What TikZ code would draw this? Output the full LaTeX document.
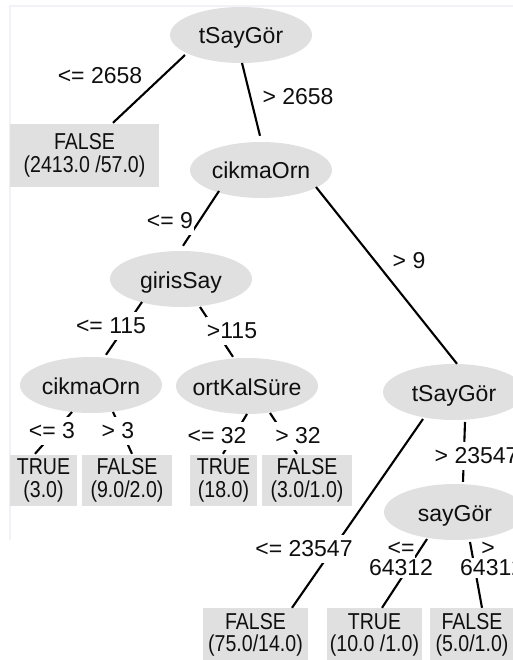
\documentclass[tikz,border=0pt]{standalone}
\usepackage{fontspec}
\setmainfont{Liberation Sans}
\newfontfamily\leaffont[FakeStretch=0.85]{Liberation Sans}
\usetikzlibrary{shapes.geometric,calc}
\definecolor{nodegray}{RGB}{224,224,224}
\definecolor{inkc}{RGB}{15,15,15}
\definecolor{framec}{RGB}{240,242,247}
\begin{document}
\begin{tikzpicture}[x=1pt,y=-1pt,
  every node/.style={font=\fontsize{23pt}{22.5pt}\selectfont, text=inkc},
  ell/.style={ellipse, fill=nodegray, minimum width=142pt, minimum height=56pt, inner sep=0pt, text height=23pt, text depth=5pt},
  leaf/.style={rectangle, fill=nodegray, inner sep=0pt, align=center, font=\fontsize{23pt}{22.5pt}\leaffont},
  lab/.style={fill=white, inner xsep=1pt, inner ysep=2pt, text height=19pt, text depth=5pt},
  labtight/.style={fill=white, inner xsep=1pt, inner ysep=0pt, text height=17pt, text depth=3pt},
  edge/.style={line width=2.1pt, draw=black}]
\useasboundingbox (0,0) rectangle (513,660);
\clip (0,0) rectangle (513,660);
\fill[white] (0,0) rectangle (513,660);
\coordinate (ftl) at (10,6);
\coordinate (ftr) at (513,6);
\coordinate (fbl) at (10,540);
\draw[framec, line width=1.5pt] (ftr) -- (ftl) -- (fbl);

% inner nodes
\node[ell] (root) at (241,35) {\makebox[0pt]{tSayGör}};
\node[ell] (c1) at (261,170) {\makebox[0pt]{cikmaOrn}};
\node[ell] (g) at (181,279) {\makebox[0pt]{girisSay}};
\node[ell] (c2) at (91,385) {\makebox[0pt]{cikmaOrn}};
\node[ell] (o) at (247,386) {\makebox[0pt]{ortKalSüre}};
\node[ell] (t2) at (454,392) {\makebox[0pt]{tSayGör}};
\node[ell] (s) at (455,512) {\makebox[0pt]{sayGör}};

% leaves
\node[leaf, minimum width=149pt, minimum height=63pt] (f1) at (84.5,155.5) {FALSE\\(2413.0 /57.0)};
\node[leaf, minimum width=67pt, minimum height=51pt] (l1) at (43.5,480.5) {TRUE\\(3.0)};
\node[leaf, minimum width=90pt, minimum height=51pt] (l2) at (127,480.5) {FALSE\\(9.0/2.0)};
\node[leaf, minimum width=67pt, minimum height=51pt] (l3) at (223.5,480.5) {TRUE\\(18.0)};
\node[leaf, minimum width=90pt, minimum height=51pt] (l4) at (307,480.5) {FALSE\\(3.0/1.0)};
\node[leaf, minimum width=105pt, minimum height=54pt] (l5) at (255.5,635) {FALSE\\(75.0/14.0)};
\node[leaf, minimum width=95pt, minimum height=54pt] (l6) at (374.5,635) {TRUE\\(10.0 /1.0)};
\node[leaf, minimum width=84pt, minimum height=54pt] (l7) at (472,635) {FALSE\\(5.0/1.0)};

% edges
\draw[edge] ($(root)+(-56,20)$) -- ($(f1.north)+(28.5,-1)$);
\draw[edge] ($(root)+(1,28)$) -- ($(c1.north)+(-1,-6)$);
\draw[edge] ($(c1)+(-42,21)$) -- ($(g.north)+(2,-5)$);
\draw[edge] ($(c1)+(55,17)$) -- ($(t2.north)+(3,0)$);
\draw[edge] ($(g)+(-39,23)$) -- ($(c2.north)+(15,-2)$);
\draw[edge] ($(g)+(19,28)$) -- ($(o.north)+(-14,-1)$);
\draw[edge] ($(c2)+(-19,27)$) -- ($(l1.north)+(-8.5,-1)$);
\draw[edge] ($(c2)+(22,27)$) -- ($(l2.north)+(5,-1)$);
\draw[edge] ($(o)+(0,28)$) -- ($(l3.north)+(-0.5,-1)$);
\draw[edge] ($(o)+(23,27)$) -- ($(l4.north)+(-10,-1)$);
\draw[edge] ($(t2)+(-31,27)$) -- ($(l5.north)+(36.5,0)$);
\draw[edge] ($(t2)+(11,30)$) -- ($(s.north)+(8,-2)$);
\draw[edge] ($(s)+(-28,27)$) -- ($(l6.north)+(7.5,0)$);
\draw[edge] ($(s)+(15,30)$) -- ($(l7.north)+(10,0)$);

% edge labels
\node[lab] (a1) at (100,77) {<= 2658};
\node[lab] (a2) at (298,98) {> 2658};
\node[lab] (a3) at (170,221) {<= 9};
\node[lab] (a4) at (409,261) {> 9};
\node[lab] (a5) at (111,326) {<= 115};
\node[lab] (a6) at (232,331) {>115};
\node[lab] (a7) at (52,431) {<= 3};
\node[lab] (a8) at (118,431) {> 3};
\node[lab] (a9) at (217,436) {<= 32};
\node[lab] (a10) at (298,436) {> 32};
\node[lab] (a11) at (304,549) {<= 23547};
\node[lab, anchor=west] (a12) at (433.5,456) {> 23547};
\node[labtight] (a13) at (401,548) {<=};
\node[labtight] (a14) at (401,568) {64312};
\node[labtight] (a15) at (488,548) {>};
\node[labtight, anchor=west] (a16) at (459,568) {64312};
\end{tikzpicture}
\end{document}
